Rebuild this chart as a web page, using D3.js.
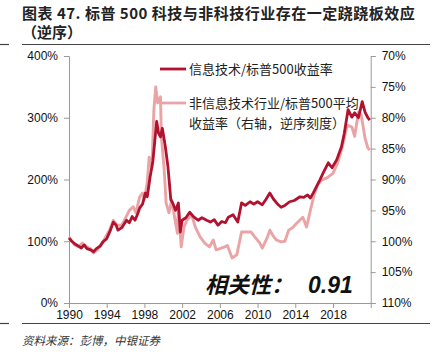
<!DOCTYPE html>
<html>
<head>
<meta charset="utf-8">
<script src="https://cdn.jsdelivr.net/npm/d3@7"></script>
<style>
  body { margin: 0; background: #fff; }
  svg { display: block; }
</style>
</head>
<body>
<div id="chart"></div>
<script>
// 信息技术/标普500收益率 (左轴, %)
const techYears = [1990.0,1990.3,1990.6,1991.0,1991.3,1991.6,1991.9,1992.3,1992.6,1992.9,1993.3,1993.6,1994.0,1994.4,1994.7,1995.0,1995.2,1995.6,1996.1,1996.4,1996.7,1997.0,1997.3,1997.5,1997.8,1998.1,1998.3,1998.6,1998.9,1999.1,1999.3,1999.5,1999.7,1999.9,2000.2,2000.5,2000.8,2001.0,2001.3,2001.6,2001.8,2002.0,2002.4,2002.8,2003.2,2003.7,2004.1,2004.6,2005.0,2005.4,2005.8,2006.2,2006.6,2006.9,2007.4,2007.9,2008.3,2008.7,2009.2,2009.6,2010.0,2010.5,2010.9,2011.3,2011.7,2012.2,2012.5,2012.9,2013.4,2013.9,2014.5,2014.9,2015.3,2015.6,2015.9,2016.3,2016.6,2017.0,2017.5,2017.9,2018.4,2018.9,2019.2,2019.6,2020.0,2020.3,2020.7,2021.1,2021.4,2021.7,2021.9]
const techValues = [105,100,96,92,89,94,88,86,83,88,92,99,104,118,131,126,118,122,134,130,140,134,145,154,160,178,172,204,230,262,294,275,269,283,255,220,167,162,150,162,115,134,138,147,140,134,138,134,131,135,126,132,130,139,143,131,162,158,164,160,164,159,168,178,168,159,155,158,164,166,172,171,175,170,178,190,199,212,227,219,232,253,275,313,301,308,300,326,309,300,296]

// 非信息技术行业/标普500平均收益率 (右轴, 逆序, %)
const nonTechYears = [1990.0,1990.3,1990.6,1991.0,1991.4,1991.8,1992.3,1992.6,1993.0,1993.6,1994.0,1994.3,1994.7,1995.1,1995.6,1996.0,1996.4,1996.8,1997.1,1997.5,1997.8,1998.0,1998.3,1998.5,1998.8,1999.0,1999.2,1999.4,1999.7,1999.8,2000.1,2000.3,2000.6,2000.9,2001.2,2001.5,2001.6,2001.9,2002.2,2002.5,2003.0,2003.4,2003.9,2004.4,2004.9,2005.3,2005.6,2006.0,2006.5,2006.8,2007.3,2007.8,2008.3,2008.9,2009.3,2009.7,2010.2,2010.5,2011.0,2011.3,2011.6,2012.0,2012.5,2012.9,2013.3,2013.7,2014.2,2014.8,2015.2,2015.6,2016.0,2016.4,2016.8,2017.4,2018.0,2018.5,2019.0,2019.5,2020.0,2020.3,2020.7,2021.0,2021.4,2021.7,2021.9]
const nonTechValues = [99.3,100.0,100.6,100.9,100.3,100.8,101.2,101.9,101.4,100.1,99.0,98.2,96.6,97.4,97.4,96.2,95.0,94.4,95.4,92.8,92.2,93.2,90.5,86.4,88.0,78.8,75.0,77.6,76.6,83.1,88.5,93.8,95.4,93.3,96.1,98.7,94.5,100.9,97.7,96.6,95.7,97.7,99.3,100.3,100.9,99.8,101.4,101.2,100.9,100.7,102.7,102.2,98.5,98.5,98.5,99.3,100.2,101.1,99.5,98.2,99.0,99.8,100.1,100.0,98.2,97.8,97.0,96.1,97.7,95.0,92.5,90.8,90.1,89.7,89.0,87.3,84.7,81.2,81.5,83.0,79.1,79.6,83.3,84.9,85.2]

const leftTicks = [0, 100, 200, 300, 400]
const rightTicks = [70, 75, 80, 85, 90, 95, 100, 105, 110]
const yearTicks = [1990, 1994, 1998, 2002, 2006, 2010, 2014, 2018]

const techName = "信息技术/标普500收益率"
const nonTechName = ["非信息技术行业/标普500平均", "收益率（右轴，逆序刻度）"]

const width = 438, height = 352
const plot = { left: 69, right: 370.7, top: 56, bottom: 303 }
const darkRed = "#b0122f", pink = "#eaa4a6", axisGray = "#9a9a9a"
const serif = "'Noto Sans CJK SC', sans-serif"

const svg = d3.select("#chart").append("svg")
    .attr("width", width)
    .attr("height", height)

// title + rules
svg.append("text")
    .attr("x", 22).attr("y", 19)
    .style("font-family", serif).style("font-weight", "bold").style("font-size", "15px")
    .style("letter-spacing", "0.5px")
    .attr("fill", "#222")
    .text("图表 47. 标普 500 科技与非科技行业存在一定跷跷板效应")
svg.append("text")
    .attr("x", 22).attr("y", 38)
    .style("font-family", serif).style("font-weight", "bold").style("font-size", "15px")
    .attr("fill", "#222")
    .text("（逆序）")
svg.append("line").attr("x1", 22).attr("x2", 430).attr("y1", 44.5).attr("y2", 44.5)
    .attr("stroke", "#444").attr("stroke-width", 1.2)
svg.append("line").attr("x1", 0).attr("x2", 9).attr("y1", 44.5).attr("y2", 44.5)
    .attr("stroke", "#444").attr("stroke-width", 1.2)
svg.append("line").attr("x1", 22).attr("x2", 430).attr("y1", 323.5).attr("y2", 323.5)
    .attr("stroke", "#444").attr("stroke-width", 1.2)
svg.append("line").attr("x1", 0).attr("x2", 9).attr("y1", 323.5).attr("y2", 323.5)
    .attr("stroke", "#444").attr("stroke-width", 1.2)
svg.append("text")
    .attr("x", 22).attr("y", 345)
    .style("font-family", serif).style("font-style", "italic").style("font-size", "11.5px")
    .attr("fill", "#333")
    .text("资料来源：彭博，中银证券")

// scales
const x = d3.scaleLinear().domain([1990, 2022]).range([plot.left, plot.right])
const yLeft = d3.scaleLinear().domain([0, 400]).range([plot.bottom, plot.top])
const yRight = d3.scaleLinear().domain([70, 110]).range([plot.top, plot.bottom])

// axes
const tickFont = "'Liberation Sans', Arial, sans-serif"
function styleAxis(g) {
    g.select(".domain").attr("stroke", axisGray)
    g.selectAll(".tick line").attr("stroke", axisGray)
    g.selectAll(".tick text")
        .attr("fill", "#111")
        .style("font-family", tickFont)
        .style("font-size", "12px")
}
svg.append("g")
    .attr("transform", `translate(${plot.left},0)`)
    .call(d3.axisLeft(yLeft).tickValues(leftTicks).tickFormat(d => d + "%").tickSizeOuter(0).tickSize(5).tickPadding(6))
    .call(styleAxis)
svg.append("g")
    .attr("transform", `translate(${plot.right},0)`)
    .call(d3.axisRight(yRight).tickValues(rightTicks).tickFormat(d => d + "%").tickSizeOuter(0).tickSize(5).tickPadding(6))
    .call(styleAxis)
svg.append("g")
    .attr("transform", `translate(0,${plot.bottom})`)
    .call(d3.axisBottom(x).tickValues(yearTicks).tickFormat(d3.format("d")).tickSizeOuter(0).tickSize(5).tickPadding(2))
    .call(styleAxis)

// lines
const nonTechLine = d3.line()
    .x((d, i) => x(nonTechYears[i]))
    .y(d => yRight(d))
const techLine = d3.line()
    .x((d, i) => x(techYears[i]))
    .y(d => yLeft(d))

svg.append("path")
    .datum(nonTechValues)
    .attr("d", nonTechLine)
    .attr("fill", "none")
    .attr("stroke", pink)
    .attr("stroke-width", 2.9)
    .attr("stroke-linejoin", "round")
svg.append("path")
    .datum(techValues)
    .attr("d", techLine)
    .attr("fill", "none")
    .attr("stroke", darkRed)
    .attr("stroke-width", 2.8)
    .attr("stroke-linejoin", "round")

// legend
const legend = svg.append("g")
legend.append("line").attr("x1", 160).attr("x2", 186).attr("y1", 69).attr("y2", 69)
    .attr("stroke", darkRed).attr("stroke-width", 2.8)
legend.append("text").attr("x", 189).attr("y", 73.5)
    .style("font-family", serif).style("font-size", "13px").attr("fill", "#222")
    .text(techName)
legend.append("line").attr("x1", 160).attr("x2", 186).attr("y1", 103).attr("y2", 103)
    .attr("stroke", pink).attr("stroke-width", 2.8)
nonTechName.forEach((t, i) => {
    legend.append("text").attr("x", 189).attr("y", 107.5 + i * 20)
        .style("font-family", serif).style("font-size", "13px").attr("fill", "#222")
        .text(t)
})

// correlation note
svg.append("text")
    .attr("x", 205).attr("y", 293)
    .style("font-family", serif).style("font-weight", "bold").style("font-style", "italic")
    .style("font-size", "22px").attr("fill", "#111")
    .text("相关性：")
svg.append("text")
    .attr("x", 308).attr("y", 293)
    .style("font-family", "'Liberation Sans', Arial, sans-serif").style("font-weight", "bold").style("font-style", "italic")
    .style("font-size", "23px").attr("fill", "#111")
    .text("0.91")
</script>
</body>
</html>
